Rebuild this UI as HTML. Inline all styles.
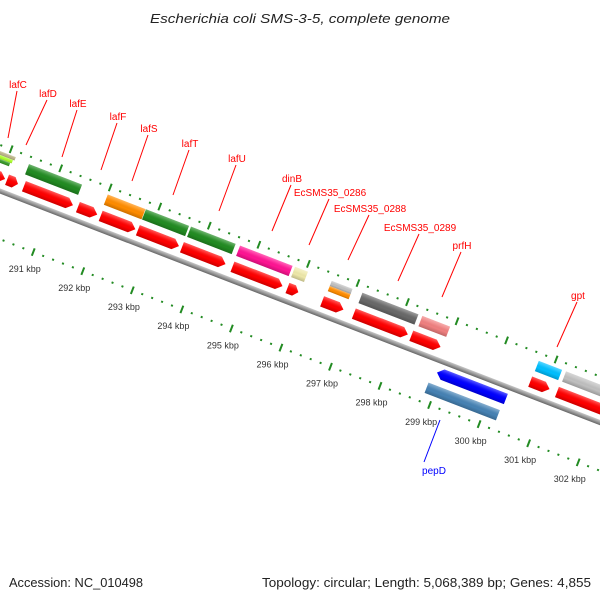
<!DOCTYPE html>
<html><head><meta charset="utf-8"><style>
html,body{margin:0;padding:0;background:#fff;width:600px;height:600px;overflow:hidden}
svg{display:block;font-family:"Liberation Sans","DejaVu Sans",sans-serif}
</style></head><body>
<svg id="map" width="600" height="600" viewBox="0 0 600 600">
<defs>
<linearGradient id="shade" x1="0" y1="0" x2="0" y2="1">
<stop offset="0" stop-color="#fff" stop-opacity="0.35"/>
<stop offset="0.3" stop-color="#fff" stop-opacity="0.1"/>
<stop offset="0.6" stop-color="#000" stop-opacity="0"/>
<stop offset="1" stop-color="#000" stop-opacity="0.2"/>
</linearGradient>
<linearGradient id="bbg" x1="0" y1="0" x2="0" y2="1">
<stop offset="0" stop-color="#c8c8c8"/><stop offset="0.5" stop-color="#999"/><stop offset="1" stop-color="#666"/>
</linearGradient>
</defs>
<text x="150" y="23" textLength="300" lengthAdjust="spacingAndGlyphs" font-size="13" font-style="italic" fill="#222">Escherichia coli SMS-3-5, complete genome</text>
<g id="strip" transform="translate(0,191) rotate(21.1)"></g>
<g id="kbp"></g>
<g id="ann"></g>
<text x="9" y="587" textLength="134" lengthAdjust="spacingAndGlyphs" font-size="12.5" fill="#222">Accession: NC_010498</text>
<text x="262" y="587" textLength="329" lengthAdjust="spacingAndGlyphs" font-size="12.5" fill="#222">Topology: circular; Length: 5,068,389 bp; Genes: 4,855</text>
</svg>
<script>
// ---- data (kbp) ----
const cdsStart = [289.44,290.05,290.39,291.48,291.94,292.69,293.58,294.60,295.71,296.41,297.05,298.21,300.61,301.15];
const cdsEnd   = [290.01,290.27,291.38,291.87,292.64,293.52,294.46,295.61,295.93,296.84,298.14,298.80,301.00,302.81];
const geneNames  = ["lafC-a","lafC-b","lafC-c","lafE","lafF","lafS","lafT","lafU","dinB","EcSMS35_0286","EcSMS35_0288-a","EcSMS35_0288-b","EcSMS35_0289","prfH","gpt","gpt-next"];
const geneStart  = [289.40,289.40,289.40,290.33,291.92,292.69,293.60,294.59,295.70,296.44,296.44,297.06,298.27,300.62,301.17];
const geneEnd    = [290.05,290.02,289.99,291.40,292.68,293.56,294.50,295.65,295.96,296.86,296.86,298.19,298.83,301.09,302.80];
const geneColor  = ["#bdb58a","#adff2f","#3a9a2a","#228b22","#ff8c00","#228b22","#228b22","#ff1493","#eee8aa","#c0c0c0","#ff8c00","#696969","#f08080","#00bfff","#c0c0c0"];
const geneSub    = [0,1,2,-1,-1,-1,-1,-1,-1,0,1,-1,-1,-1,-1];
const revStart = [298.91,298.83];
const revEnd   = [300.30,300.27];
const revColor = ["#0000ff","#4682b4"];
const kbpTicks = [291,292,293,294,295,296,297,298,299,300,301,302];
const labelText = ["lafC","lafD","lafE","lafF","lafS","lafT","lafU","dinB","EcSMS35_0286","EcSMS35_0288","EcSMS35_0289","prfH","gpt"];
const labelX = [18,48,78,118,149,190,237,292,330,370,420,462,578];
const labelY = [88,97,107,120,132,147,162,182,196,212,231,249,299];
const labelTipX = [8,26,62,101,132,173,219,272,309,348,398,442,557];
const labelTipY = [138,145,157,170,181,195,211,231,245,260,281,297,347];

const NS="http://www.w3.org/2000/svg";
const strip=document.getElementById('strip');
const COS=Math.cos(21.1*Math.PI/180), SIN=Math.sin(21.1*Math.PI/180);
function X(k){return 53+(k-291)*53.1;}
function toScreen(lx,ly){return [lx*COS-ly*SIN, 191+lx*SIN+ly*COS];}
function mk(tag,attrs,parent){const e=document.createElementNS(NS,tag);for(const k in attrs)e.setAttribute(k,attrs[k]);(parent||strip).appendChild(e);return e;}

let bb=mk('rect',{x:-60,y:-2.5,width:800,height:5,fill:'url(#bbg)'});



function scale(ly,offset,name){
  for(let k=285;k<=305;k+=0.2){
    const lx=X(k+offset);
    const major=Math.abs(k-Math.round(k))<0.01;
    let t;
    if(major){t=mk('rect',{x:lx-1,y:ly-4,width:2,height:8,fill:'#228b22'});}
    else{t=mk('rect',{x:lx-1,y:ly-1,width:2,height:2,fill:'#228b22'});}
    
    
  }
}
scale(-43,-0.085,'outer-scale-tick');
scale(45,0,'inner-scale-tick');

function shape(x1,x2,yc,h,dir){
  const a=Math.min(6,(x2-x1)*0.4),t=yc-h/2,b=yc+h/2;
  if(dir>0)return `${x1},${t} ${x2-a},${t} ${x2},${yc} ${x2-a},${b} ${x1},${b}`;
  if(dir<0)return `${x1+a},${t} ${x2},${t} ${x2},${b} ${x1+a},${b} ${x1},${yc}`;
  return `${x1},${t} ${x2},${t} ${x2},${b} ${x1},${b}`;
}
function bar(x1,x2,yc,h,dir,color,name){
  const g=mk('g',{});
  
  
  mk('polygon',{points:shape(x1,x2,yc,h,dir),fill:color},g);
  mk('polygon',{points:shape(x1,x2,yc,h,dir),fill:'url(#shade)'},g);
}
for(let i=0;i<cdsStart.length;i++){
  bar(X(cdsStart[i]),X(cdsEnd[i]),-13,11,1,'#ff0000','cds-'+i);
}
for(let i=0;i<geneStart.length;i++){
  let yc=-30,h=11;
  if(geneSub[i]>=0){
    if(i<3){h=3.7;yc=-35.5+geneSub[i]*3.7;}else{h=5.5;yc=-32.8+geneSub[i]*5.5;}
  }
  bar(X(geneStart[i]),X(geneEnd[i]),yc,h,0,geneColor[i],'gene-'+(geneNames[i]||i));
}
for(let i=0;i<revStart.length;i++){
  bar(X(revStart[i]),X(revEnd[i]),i===0?12:30,11,i===0?-1:0,revColor[i],i===0?'cds-pepD':'gene-pepD');
}
const kg=document.getElementById('kbp');
for(let i=0;i<kbpTicks.length;i++){
  const p=toScreen(X(kbpTicks[i]),63);
  const t=mk('text',{x:p[0]-2,y:p[1]+3,'text-anchor':'middle','font-size':'9',fill:'#333'},kg);
  t.textContent=kbpTicks[i]+' kbp';
  
  
}
const ag=document.getElementById('ann');
for(let i=0;i<labelText.length;i++){
  const l=mk('line',{x1:labelX[i]-1,y1:labelY[i]+3,x2:labelTipX[i],y2:labelTipY[i],stroke:'#ff0000','stroke-width':1},ag);
  
  
  const t=mk('text',{x:labelX[i],y:labelY[i],'text-anchor':'middle','font-size':'10',fill:'#ff0000'},ag);
  t.textContent=labelText[i];
  
  
}
let pl=mk('line',{x1:440,y1:420,x2:424,y2:462,stroke:'#0000ff','stroke-width':1},ag);


let pt=mk('text',{x:434,y:474,'text-anchor':'middle','font-size':'10',fill:'#0000ff'},ag);
pt.textContent='pepD';


</script>
</body></html>
